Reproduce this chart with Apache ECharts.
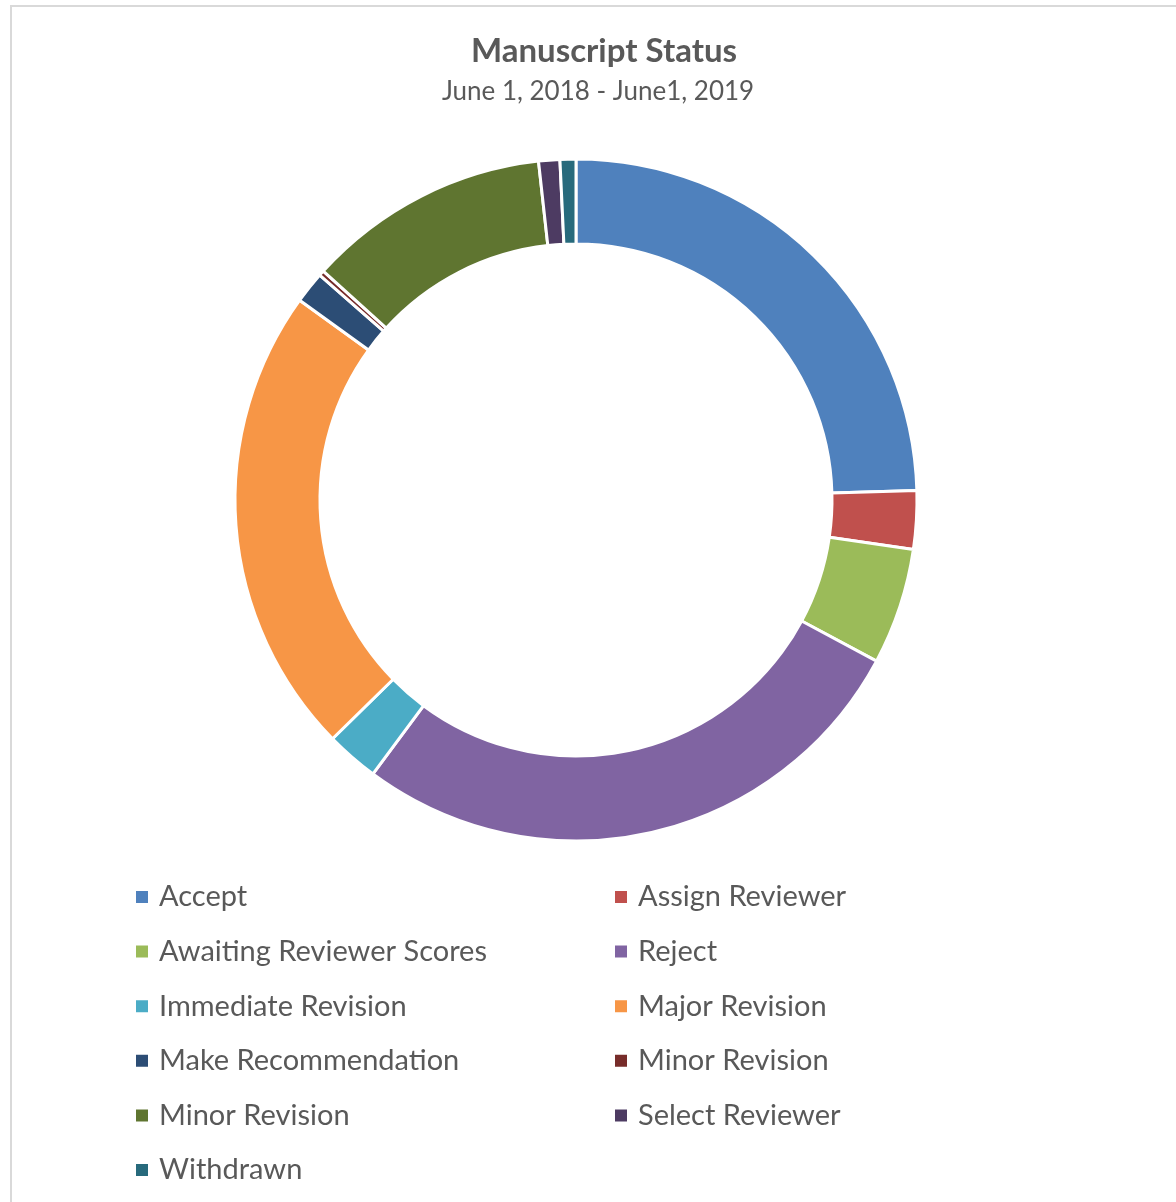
<!DOCTYPE html>
<html>
<head>
<meta charset="utf-8">
<script src="https://cdn.jsdelivr.net/npm/echarts@6/dist/echarts.min.js"></script>
<style>
  html, body { margin: 0; padding: 0; background: #fff; }
  #frame { position: absolute; left: 10px; top: 5px; width: 1300px; height: 1300px;
           border-left: 2px solid #d9d9d9; border-top: 2px solid #d9d9d9; }
  #chart { position: absolute; left: 0; top: 0; width: 1176px; height: 1202px; }
</style>
</head>
<body>
<div id="frame"></div>
<div id="chart"></div>
<script>
const statuses = ['Accept', 'Assign Reviewer', 'Awaiting Reviewer Scores', 'Reject',
  'Immediate Revision', 'Major Revision', 'Make Recommendation', 'Minor Revision ',
  'Minor Revision', 'Select Reviewer', 'Withdrawn'];
const counts = [98, 11, 22, 109, 10, 89, 6, 1, 46, 4, 3];
const colors = ['#4f81bd', '#c0504d', '#9bbb59', '#8064a2', '#4bacc6', '#f79646',
  '#2c4d75', '#772c2a', '#5f7530', '#4d3b62', '#276a7c'];

// legend columns as laid out in the reference
const leftCol = [statuses[0], statuses[2], statuses[4], statuses[6], statuses[8], statuses[10]];
const rightCol = [statuses[1], statuses[3], statuses[5], statuses[7], statuses[9]];

const font = 'Lato, "Open Sans", sans-serif';
const legendBase = {
  orient: 'vertical',
  top: 882,
  padding: 0,
  itemWidth: 14,
  itemHeight: 14,
  itemGap: 24.6,
  icon: 'rect',
  selectedMode: false,
  textStyle: {
    fontFamily: font,
    fontSize: 29,
    lineHeight: 30,
    color: '#595959',
    padding: [0, 0, 0, 5]
  }
};

const chart = echarts.init(document.getElementById('chart'), null, { renderer: 'canvas' });
chart.setOption({
  animation: false,
  color: colors,
  title: [{
    text: 'Manuscript Status',
    left: 604,
    textAlign: 'center',
    top: 35,
    padding: 0,
    textStyle: { fontFamily: font, fontSize: 33, fontWeight: 'bold', color: '#595959' }
  }, {
    text: 'June 1, 2018 - June1, 2019',
    left: 598,
    textAlign: 'center',
    top: 79,
    padding: 0,
    textStyle: { fontFamily: font, fontSize: 26, fontWeight: 'normal', color: '#595959' }
  }],
  legend: [
    Object.assign({}, legendBase, { left: 134, data: leftCol }),
    Object.assign({}, legendBase, { left: 613, data: rightCol })
  ],
  series: [{
    type: 'pie',
    center: [576, 500],
    radius: [256, 341],
    startAngle: 90,
    clockwise: true,
    label: { show: false },
    labelLine: { show: false },
    emphasis: { disabled: true },
    itemStyle: { borderColor: '#fff', borderWidth: 3 },
    data: statuses.map((s, i) => ({ name: s, value: counts[i] }))
  }]
});
</script>
</body>
</html>
